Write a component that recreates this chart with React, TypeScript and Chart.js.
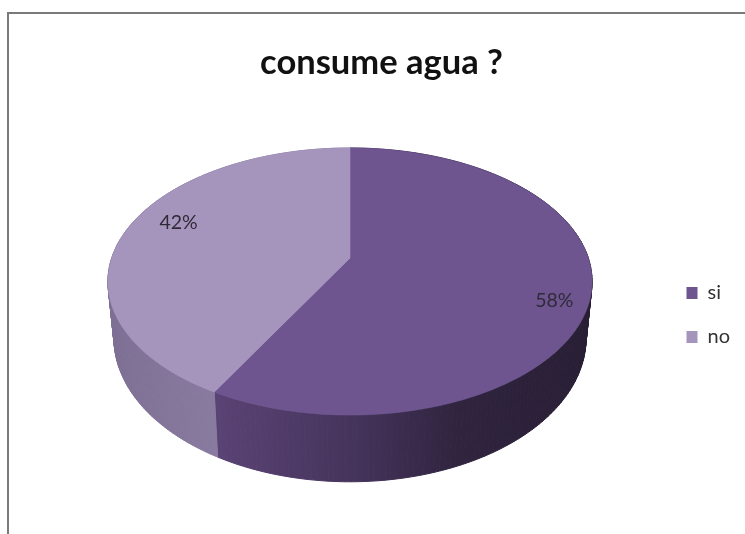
import { useEffect, useRef } from "react";
import { Chart, registerables } from "chart.js";

Chart.register(...registerables);

const categories = ["si", "no"];
const shares = [58, 42];
const topColors = ["#6e5590", "#a595bd"];
const titleText = "consume agua ?";

// Perspective of the disc: a unit circle seen from above and in front.
const APEX_X = 341;
const APEX_Y = 244;
const SCALE_X = 238.3;
const SCALE_Y = 129.4;
const TILT = -0.176;
const DEPTH = 55;
const BASE_SHRINK = 0.975;

// The legend sits lower and further in than the default right-hand slot.
const LEGEND_SHIFT_X = -14;
const LEGEND_SHIFT_Y = 41;

type Pt = { x: number; y: number };

const project = (angle: number, r: number): Pt => {
  const u = r * Math.sin(angle);
  const v = -r * Math.cos(angle);
  const w = 1 + TILT * v;
  return { x: APEX_X + (SCALE_X * u) / w, y: APEX_Y + (SCALE_Y * v) / w };
};

const projectBase = (angle: number): Pt => {
  const v = -Math.cos(angle);
  const w = 1 + TILT * v;
  const p = project(angle, 1);
  return { x: APEX_X + (p.x - APEX_X) * BASE_SHRINK, y: p.y + DEPTH / w };
};

const sideFill = (ctx: CanvasRenderingContext2D, index: number) => {
  const g = ctx.createLinearGradient(APEX_X - 242, 0, APEX_X + 242, 0);
  if (index === 0) {
    g.addColorStop(0.22, "#5a4375");
    g.addColorStop(0.5, "#46345c");
    g.addColorStop(0.72, "#30243f");
    g.addColorStop(1, "#281e34");
  } else {
    g.addColorStop(0, "#7d6f94");
    g.addColorStop(0.3, "#8d7fa3");
  }
  return g;
};

// Draws the pie's arc elements as a solid disc, using the angles the controller computed.
const discPlugin = {
  id: "disc",
  afterLayout(chart: Chart) {
    const legend = chart.legend as any;
    legend.left += LEGEND_SHIFT_X;
    legend.right += LEGEND_SHIFT_X;
    legend.top += LEGEND_SHIFT_Y;
    legend.bottom += LEGEND_SHIFT_Y;
  },
  beforeDatasetsDraw(chart: Chart) {
    const ctx = chart.ctx;
    const arcs = chart.getDatasetMeta(0).data as any[];
    const angleOf = (a: number) => a + Math.PI / 2;

    arcs.forEach((arc, i) => {
      const a0 = angleOf(arc.startAngle);
      const a1 = angleOf(arc.endAngle);
      const steps = 180;
      ctx.fillStyle = sideFill(ctx, i);
      ctx.strokeStyle = ctx.fillStyle;
      ctx.lineWidth = 1;
      for (let s = 0; s < steps; s++) {
        const t0 = a0 + ((a1 - a0) * s) / steps;
        const t1 = a0 + ((a1 - a0) * (s + 1)) / steps;
        const p0 = project(t0, 1);
        const p1 = project(t1, 1);
        const q0 = projectBase(t0);
        const q1 = projectBase(t1);
        ctx.beginPath();
        ctx.moveTo(p0.x, p0.y);
        ctx.lineTo(p1.x, p1.y);
        ctx.lineTo(q1.x, q1.y);
        ctx.lineTo(q0.x, q0.y);
        ctx.closePath();
        ctx.fill();
        ctx.stroke();
      }
    });

    arcs.forEach((arc, i) => {
      const a0 = angleOf(arc.startAngle);
      const a1 = angleOf(arc.endAngle);
      ctx.beginPath();
      ctx.moveTo(APEX_X, APEX_Y);
      for (let s = 0; s <= 240; s++) {
        const p = project(a0 + ((a1 - a0) * s) / 240, 1);
        ctx.lineTo(p.x, p.y);
      }
      ctx.closePath();
      ctx.fillStyle = topColors[i];
      ctx.strokeStyle = topColors[i];
      ctx.lineWidth = 0.6;
      ctx.fill();
      ctx.stroke();
    });

    const labelShift = [
      { x: 13, y: 16 },
      { x: 7, y: -10 },
    ];
    ctx.font = '19.5px Lato, "Open Sans", sans-serif';
    ctx.fillStyle = "#2f2a38";
    ctx.textAlign = "center";
    ctx.textBaseline = "middle";
    arcs.forEach((arc, i) => {
      const mid = angleOf((arc.startAngle + arc.endAngle) / 2);
      const p = project(mid, 0.8);
      ctx.fillText(`${shares[i]}%`, p.x + labelShift[i].x, p.y + labelShift[i].y);
    });
    return false;
  },
};

export default function App() {
  const ref = useRef<HTMLCanvasElement>(null);

  useEffect(() => {
    const chart = new Chart(ref.current!, {
      type: "pie",
      data: {
        labels: categories,
        datasets: [{ data: shares, backgroundColor: topColors, borderWidth: 0 }],
      },
      options: {
        animation: false,
        responsive: false,
        plugins: {
          tooltip: { enabled: false },
          title: {
            display: true,
            text: titleText,
            color: "#111111",
            font: { family: 'Lato, "Open Sans", sans-serif', size: 34.5, weight: "bold" },
            padding: { top: 28, bottom: 14 },
          },
          legend: {
            position: "right",
            labels: {
              boxWidth: 11,
              boxHeight: 12,
              padding: 24,
              color: "#333333",
              font: { family: 'Lato, "Open Sans", sans-serif', size: 20 },
            },
          },
        },
      },
      plugins: [discPlugin],
    });
    return () => chart.destroy();
  }, []);

  return (
    <div
      style={{
        position: "absolute",
        left: 7,
        top: 12,
        width: 736,
        height: 520,
        borderLeft: "2px solid #7a7a7a",
        borderTop: "2px solid #7a7a7a",
        overflow: "hidden",
        background: "#ffffff",
      }}
    >
      <canvas ref={ref} width={745} height={520} style={{ display: "block" }} />
    </div>
  );
}
